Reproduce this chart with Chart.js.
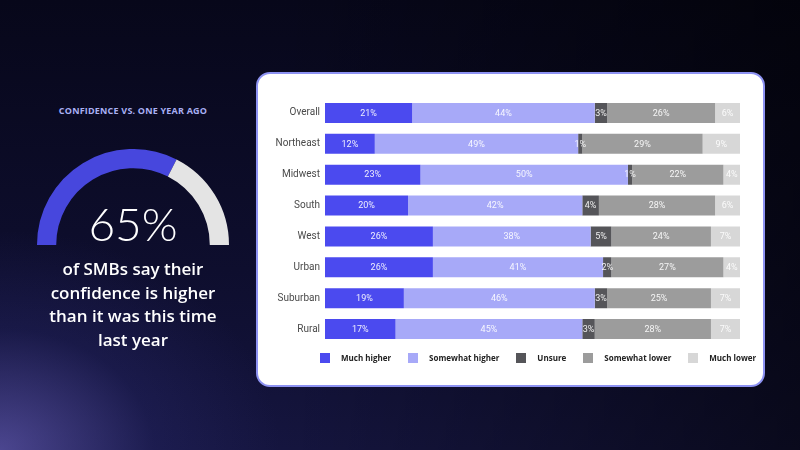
<!DOCTYPE html>
<html>
<head>
<meta charset="utf-8">
<script src="https://cdn.jsdelivr.net/npm/chart.js@4.4.1/dist/chart.umd.min.js"></script>
<style>
  html, body { margin: 0; padding: 0; }
  body {
    width: 800px; height: 450px; overflow: hidden; position: relative;
    font-family: "Open Sans", sans-serif;
    background:
      radial-gradient(ellipse 280px 220px at 0% 100%, rgba(120,110,210,0.55), rgba(50,50,130,0.25) 55%, rgba(0,0,0,0) 100%),
      linear-gradient(to right, rgba(0,0,0,0) 35%, rgba(0,0,0,0.55) 100%),
      linear-gradient(to bottom, #07071a 0%, #0e0e2e 60%, #15153f 100%);
  }
  .title {
    position: absolute; left: 0; width: 266px; top: 104px; text-align: center;
    color: #a9b0f4; font-size: 9px; font-weight: 700; letter-spacing: 0.2px;
  }
  .gauge { position: absolute; left: 37px; top: 149px; width: 192px; height: 96px; }
  .big {
    position: absolute; left: 0; width: 266px; top: 196px; text-align: center;
    color: #fff; font-family: Lato, sans-serif; font-weight: 300; font-size: 46px; line-height: 56px;
  }
  .desc {
    position: absolute; left: 0; width: 266px; top: 257px; text-align: center;
    color: #fff; font-size: 17px; font-weight: 600; line-height: 23.5px;
  }
  .card {
    position: absolute; left: 256px; top: 72px; width: 509px; height: 315px;
    box-sizing: border-box; border: 2px solid #8d92f2; border-radius: 14px; background: #fff;
  }
  .card .box { position: absolute; left: 0; top: 0; width: 505px; height: 311px; }
  #legend {
    position: absolute; left: 62px; top: 279px; display: flex; gap: 17px;
    font-size: 8px; font-weight: 700; color: #222; line-height: 10px;
  }
  #legend .item { display: flex; align-items: center; }
  #legend .sw { width: 10px; height: 10px; margin-right: 11px; }
</style>
</head>
<body>
<div class="title">CONFIDENCE VS. ONE YEAR AGO</div>
<div class="gauge"><canvas id="gauge"></canvas></div>
<div class="big">65%</div>
<div class="desc">of SMBs say their<br>confidence is higher<br>than it was this time<br>last year</div>
<div class="card">
  <div class="box"><canvas id="bars"></canvas></div>
  <div id="legend"></div>
</div>

<script>
// regions / groups
const categories = ['Overall', 'Northeast', 'Midwest', 'South', 'West', 'Urban', 'Suburban', 'Rural'];
const seriesNames = ['Much higher', 'Somewhat higher', 'Unsure', 'Somewhat lower', 'Much lower'];
const muchHigher = [21, 12, 23, 20, 26, 26, 19, 17];
const somewhatHigher = [44, 49, 50, 42, 38, 41, 46, 45];
const unsure = [3, 1, 1, 4, 5, 2, 3, 3];
const somewhatLower = [26, 29, 22, 28, 24, 27, 25, 28];
const muchLower = [6, 9, 4, 6, 7, 4, 7, 7];

const gaugeLabels = ['Higher', 'Not higher'];
const gaugeValues = [65, 35];

const colors = ['#4b4aef', '#a7a9f8', '#555559', '#9c9c9c', '#d7d7d7'];

// white % text in the middle of each segment
const segLabels = {
  id: 'segLabels',
  afterDatasetsDraw(chart) {
    const ctx = chart.ctx;
    ctx.save();
    ctx.font = '9px Roboto';
    ctx.fillStyle = 'rgba(255,255,255,0.9)';
    ctx.textAlign = 'center';
    ctx.textBaseline = 'middle';
    chart.data.datasets.forEach((ds, i) => {
      chart.getDatasetMeta(i).data.forEach((bar, j) => {
        const c = bar.getCenterPoint();
        ctx.fillText(ds.data[j] + '%', c.x, c.y + 0.5);
      });
    });
    ctx.restore();
  }
};

// legend built from the chart's own legend items
const htmlLegend = {
  id: 'htmlLegend',
  afterUpdate(chart) {
    const box = document.getElementById('legend');
    box.innerHTML = '';
    chart.options.plugins.legend.labels.generateLabels(chart).forEach(item => {
      const el = document.createElement('div');
      el.className = 'item';
      const sw = document.createElement('span');
      sw.className = 'sw';
      sw.style.background = item.fillStyle;
      el.appendChild(sw);
      el.appendChild(document.createTextNode(item.text));
      box.appendChild(el);
    });
  }
};

new Chart(document.getElementById('gauge'), {
  type: 'doughnut',
  data: {
    labels: gaugeLabels,
    datasets: [{
      data: gaugeValues,
      backgroundColor: ['#4747dd', '#e4e4e4'],
      borderWidth: 0,
      hoverOffset: 0
    }]
  },
  options: {
    responsive: true,
    maintainAspectRatio: false,
    animation: false,
    rotation: -90,
    circumference: 180,
    cutout: '80%',
    plugins: { legend: { display: false }, tooltip: { enabled: false } }
  }
});

const allSeries = [muchHigher, somewhatHigher, unsure, somewhatLower, muchLower];

new Chart(document.getElementById('bars'), {
  type: 'bar',
  data: {
    labels: categories,
    datasets: allSeries.map((d, i) => ({
      label: seriesNames[i],
      data: d,
      backgroundColor: colors[i],
      borderWidth: 0,
      barPercentage: 0.65,
      categoryPercentage: 1
    }))
  },
  options: {
    indexAxis: 'y',
    responsive: true,
    maintainAspectRatio: false,
    animation: false,
    layout: { padding: { top: 23.5, right: 23, bottom: 40.5, left: 0 } },
    scales: {
      x: { stacked: true, min: 0, max: 100, display: false },
      y: {
        stacked: true,
        grid: { display: false, drawTicks: false },
        border: { display: false },
        ticks: { font: { family: 'Roboto', size: 10 }, color: '#4a4a4a', padding: 5 },
        afterFit(s) { s.width = 67; }
      }
    },
    plugins: {
      tooltip: { enabled: false },
      legend: { display: false }
    }
  },
  plugins: [segLabels, htmlLegend]
});
</script>
</body>
</html>
